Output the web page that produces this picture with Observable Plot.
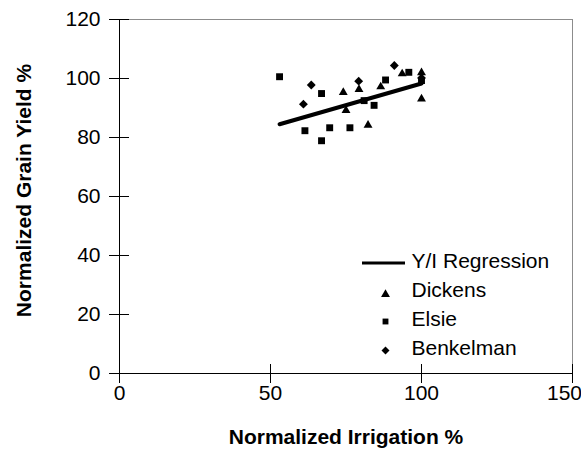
<!DOCTYPE html>
<html>
<head>
<meta charset="utf-8">
<script src="https://cdn.jsdelivr.net/npm/d3@7"></script>
<script src="https://cdn.jsdelivr.net/npm/@observablehq/plot@0.6"></script>
<style>
  html, body { margin: 0; padding: 0; background: #fff; }
</style>
</head>
<body>
<div id="chart"></div>
<script>
// ---- data ----
const dickensX = [74.1, 79.3, 75.0, 82.3, 86.5, 93.6, 100.0, 100.0];
const dickensY = [95.3, 96.3, 89.2, 84.2, 97.2, 101.6, 102.0, 93.1];

const elsieX = [53.0, 66.9, 61.4, 69.6, 76.3, 66.9, 84.3, 81.0, 88.1, 95.8, 100.0];
const elsieY = [100.6, 94.9, 82.3, 83.3, 83.3, 78.9, 90.9, 92.5, 99.5, 102.1, 99.3];

const benkelmanX = [63.5, 60.9, 79.2, 91.0, 100.0];
const benkelmanY = [97.8, 91.3, 99.1, 104.4, 100.2];

const regressionX = [53, 100];
const regressionY = [84.5, 98.3];

const xTicks = [0, 50, 100, 150];
const yTicks = [0, 20, 40, 60, 80, 100, 120];

const legendLabels = ["Y/I Regression", "Dickens", "Elsie", "Benkelman"];
const xTitle = "Normalized Irrigation %";
const yTitle = "Normalized Grain Yield %";

const toPoints = (xs, ys) => xs.map((x, i) => ({x, y: ys[i]}));
const dickens = toPoints(dickensX, dickensY);
const elsie = toPoints(elsieX, elsieY);
const benkelman = toPoints(benkelmanX, benkelmanY);
const regression = toPoints(regressionX, regressionY);

const FONT = "'Liberation Sans', Arial, Helvetica, sans-serif";
const FS = 21;

const chart = Plot.plot({
  width: 581,
  height: 449,
  marginLeft: 119,
  marginRight: 9,
  marginTop: 19,
  marginBottom: 76,
  style: {fontFamily: FONT, fontSize: FS + "px", background: "#fff", color: "#000"},
  x: {domain: [0, 150], axis: null},
  y: {domain: [0, 120], axis: null},
  marks: [
    Plot.frame({stroke: "#8c8c8c", strokeWidth: 1}),
    // crossing tick marks
    Plot.ruleY(yTicks, {x1: 0, x2: 0, insetLeft: -10, insetRight: -10, stroke: "#000", strokeWidth: 1}),
    Plot.ruleX(xTicks, {y1: 0, y2: 0, insetTop: -9, insetBottom: -10, stroke: "#000", strokeWidth: 1}),
    Plot.ruleX([0], {stroke: "#000", strokeWidth: 1}),
    Plot.ruleY([0], {stroke: "#000", strokeWidth: 1}),
    // tick labels
    Plot.axisY({ticks: yTicks, tickSize: 0, tickPadding: 19, fontSize: FS, label: null, tickFormat: d => d}),
    Plot.axisX({ticks: xTicks.slice(0, -1), tickSize: 0, tickPadding: 12, fontSize: FS, label: null, tickFormat: d => d}),
    Plot.axisX({ticks: xTicks.slice(-1), tickSize: 0, tickPadding: 12, fontSize: FS, label: null, tickFormat: d => d, dx: -8}),
    // titles
    Plot.text([yTitle], {frameAnchor: "left", textAnchor: "middle", lineAnchor: "middle", rotate: -90, dx: -95, dy: -6, fontWeight: "bold", fontSize: FS, text: d => d}),
    Plot.text([xTitle], {frameAnchor: "bottom", textAnchor: "middle", lineAnchor: "middle", dy: 64, fontWeight: "bold", fontSize: FS, text: d => d}),
    // data
    Plot.line(regression, {x: "x", y: "y", stroke: "#000", strokeWidth: 4}),
    Plot.dot(dickens, {x: "x", y: "y", symbol: "triangle", r: 3.3, fill: "#000", stroke: "none"}),
    Plot.dot(elsie, {x: "x", y: "y", symbol: "square", r: 3.9, fill: "#000", stroke: "none"}),
    Plot.dot(benkelman, {x: "x", y: "y", symbol: "diamond2", r: 4.0, fill: "#000", stroke: "none"}),
    // legend
    Plot.ruleY([0], {insetLeft: 243, insetRight: 167, dy: -110.5, stroke: "#000", strokeWidth: 3}),
    Plot.dot([legendLabels[1]], {frameAnchor: "top-left", dx: 266, dy: 275, symbol: "triangle", r: 3.3, fill: "#000", stroke: "none"}),
    Plot.dot([legendLabels[2]], {frameAnchor: "top-left", dx: 266, dy: 302, symbol: "square", r: 3.3, fill: "#000", stroke: "none"}),
    Plot.dot([legendLabels[3]], {frameAnchor: "top-left", dx: 266, dy: 331, symbol: "diamond2", r: 3.6, fill: "#000", stroke: "none"}),
    Plot.text([legendLabels[0]], {frameAnchor: "top-left", dx: 292, dy: 242, textAnchor: "start", lineAnchor: "middle", fontSize: FS, text: d => d}),
    Plot.text([legendLabels[1]], {frameAnchor: "top-left", dx: 292, dy: 271, textAnchor: "start", lineAnchor: "middle", fontSize: FS, text: d => d}),
    Plot.text([legendLabels[2]], {frameAnchor: "top-left", dx: 292, dy: 299.5, textAnchor: "start", lineAnchor: "middle", fontSize: FS, text: d => d}),
    Plot.text([legendLabels[3]], {frameAnchor: "top-left", dx: 292, dy: 329, textAnchor: "start", lineAnchor: "middle", fontSize: FS, text: d => d})
  ]
});
document.getElementById("chart").appendChild(chart);
</script>
</body>
</html>
